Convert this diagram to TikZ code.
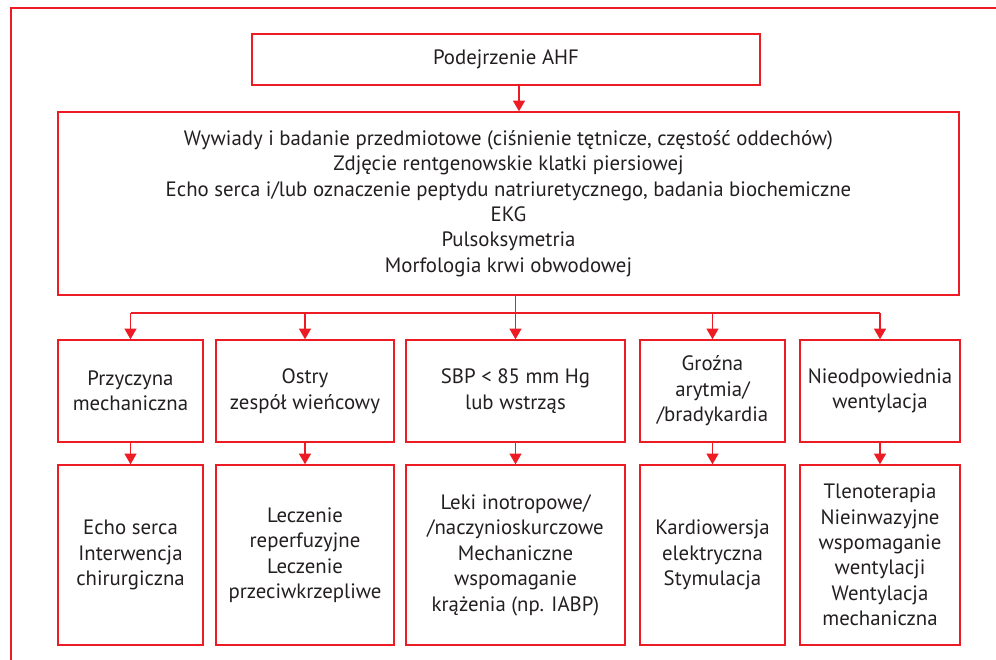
\documentclass[tikz,border=0pt]{standalone}
\usepackage{fontspec}
\setmainfont{PT Sans}
\usetikzlibrary{arrows.meta}
\definecolor{fr}{RGB}{237,28,36}
\definecolor{tx}{RGB}{35,31,32}
\begin{document}
\begin{tikzpicture}[x=0.75pt,y=-0.75pt,
  box/.style={draw=fr,line width=1.1pt,text=tx,align=center,inner sep=0pt,
    font=\fontsize{15.6}{19.1}\selectfont},
  lbl/.style={text=tx,align=center,inner sep=0pt,font=\fontsize{15.6}{19.1}\selectfont},
  arr/.style={draw=fr,line width=1pt,-{Triangle[width=9pt,length=8pt]}},
  ln/.style={draw=fr,line width=1pt}]
\useasboundingbox (0,0) rectangle (996,660);
\draw[ln,line width=1.1pt] (11,660) -- (11,8) -- (996,8);
\node[box,minimum width=508*0.75pt,minimum height=51*0.75pt] (top) at (506,59.5) {Podejrzenie AHF};
\node[box,minimum width=901*0.75pt,minimum height=183*0.75pt] (big) at (508.5,203.5)
 {Wywiady i badanie przedmiotowe (ciśnienie tętnicze, częstość oddechów)\\
  Zdjęcie rentgenowskie klatki piersiowej\\
  Echo serca i/lub oznaczenie peptydu natriuretycznego, badania biochemiczne\\
  EKG\\ Pulsoksymetria\\ Morfologia krwi obwodowej};
\foreach \n/\x/\w in {a/130.5/145, b/305/178, c/515.5/219, d/712.5/145, e/880/160}{
  \node[box,minimum width=\w*0.75pt,minimum height=102*0.75pt] (\n1) at (\x,391) {};
  \node[box,minimum width=\w*0.75pt,minimum height=180*0.75pt] (\n2) at (\x,555) {};
}
\node[lbl] at (a1) {Przyczyna\\mechaniczna};
\node[lbl] at (b1) {Ostry\\zespół wieńcowy};
\node[lbl] at (c1) {SBP < 85 mm Hg\\lub wstrząs};
\node[lbl] at (d1) {Groźna\\arytmia/\\/bradykardia};
\node[lbl] at (e1) {Nieodpowiednia\\wentylacja};
\node[lbl] at (a2) {Echo serca\\Interwencja\\chirurgiczna};
\node[lbl] at (b2) {Leczenie\\reperfuzyjne\\Leczenie\\przeciwkrzepliwe};
\node[lbl] at (c2) {Leki inotropowe/\\/naczynioskurczowe\\Mechaniczne\\wspomaganie\\krążenia (np. IABP)};
\node[lbl] at (d2) {Kardiowersja\\elektryczna\\Stymulacja};
\node[lbl] at (e2) {Tlenoterapia\\Nieinwazyjne\\wspomaganie\\wentylacji\\Wentylacja\\mechaniczna};
\coordinate (t1) at (519,85);
\draw[arr] (t1) -- (t1 |- big.north);
\coordinate (s0) at (515.5,313);
\draw[ln] (s0 |- big.south) -- (s0);
\draw[ln] (a1.north |- s0) -- (e1.north |- s0);
\foreach \n in {a,b,c,d,e}{
  \draw[arr] (\n1.north |- s0) -- (\n1.north);
  \draw[arr] (\n1.south) -- (\n2.north);
}
\end{tikzpicture}
\end{document}
